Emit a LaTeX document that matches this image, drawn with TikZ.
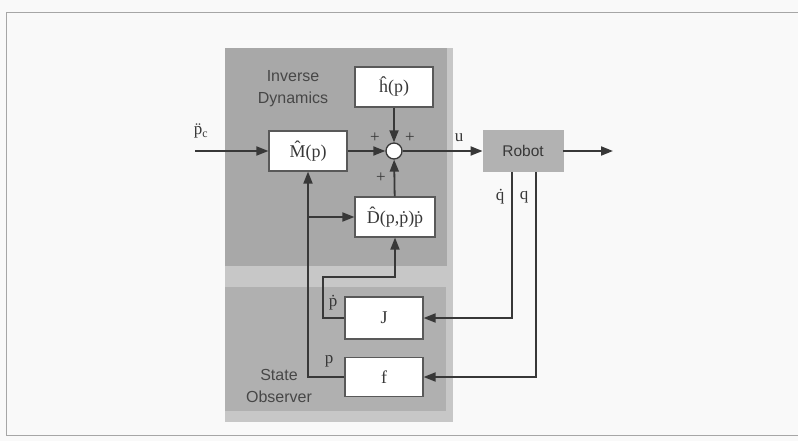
\documentclass[tikz,border=0pt]{standalone}
\usepackage{fontspec}
\setmainfont{Liberation Serif}
\setsansfont{Liberation Sans}
\usetikzlibrary{arrows.meta}
\definecolor{ink}{gray}{0.22}
\definecolor{paper}{gray}{0.975}
\definecolor{panelA}{gray}{0.66}
\definecolor{panelB}{gray}{0.69}
\definecolor{stripe}{gray}{0.78}
\definecolor{robotfill}{gray}{0.70}
\begin{document}
\begin{tikzpicture}[x=1pt,y=-1pt,
  blk/.style={draw=black!65, line width=1.2pt, fill=white, minimum width=78pt, minimum height=40pt, inner sep=0pt, text=ink, font=\fontsize{18}{20}\selectfont},
  robotbox/.style={draw=gray!60, line width=0.8pt, fill=robotfill, minimum width=80pt, minimum height=41pt, inner sep=0pt, text=ink, font=\sffamily\fontsize{15.5}{17}\selectfont},
  sumnode/.style={circle, draw=ink, line width=1.3pt, fill=white, minimum size=16pt, inner sep=0pt},
  wire/.style={draw=ink, line width=1.8pt},
  arr/.style={wire, -{Triangle[length=12pt,width=9pt]}},
  lbl/.style={text=ink, inner sep=0pt, font=\fontsize{17}{19}\selectfont},
  panellbl/.style={text=black!72, inner sep=0pt, align=center, font=\sffamily\fontsize{16}{22}\selectfont}
]
\useasboundingbox (0,0) rectangle (798,441);
\fill[paper] (0,0) rectangle (798,441);
\draw[gray!70, line width=1pt] (798,13) -- (6,13) -- (6,435) -- (798,435);

% panels
\fill[stripe] (225,48) rectangle (453,422);
\fill[panelA] (225,48) rectangle (447,266);
\fill[panelB] (225,287) rectangle (446,411);

\node[panellbl] (idl) at (293,89) {Inverse\\Dynamics};
\node[panellbl] (sol) at (279,386) {State\\Observer};

% blocks
\node[blk] (h) at (394,87) {\^{h}(p)};
\node[blk] (M) at (308,151) {\^{M}(p)};
\node[sumnode] (S) at (394,151) {};
\node[blk, minimum width=80pt] (D) at (395,217) {\^{D}(p,\.{p})\.{p}};
\node[robotbox] (R) at (523,151) {Robot};
\node[blk, minimum height=42pt] (J) at (384,318) {J};
\node[blk, minimum height=39pt] (f) at (384,377) {f};

\coordinate (in) at (195,151);
\coordinate (out) at (613,151);
\coordinate (qdx) at (512,0);
\coordinate (qx) at (536,0);
\coordinate (jt) at (323,277);

% connectors
\draw[arr] (in) -- (M);
\draw[arr] (M) -- (S);
\draw[arr] (h) -- (S);
\draw[arr] (D) -- (S);
\draw[arr] (S) -- (R);
\draw[arr] (R) -- (out);
\draw[arr] (R.south -| qdx) |- (J.east);
\draw[arr] (R.south -| qx) |- (f.east);
\draw[arr] (f.west) -| (M.south);
\draw[arr] (M.south |- D.west) -- (D.west);
\draw[arr] (J.west) -| (jt) -| (D.south);

% labels
\node[lbl] (pc) at (201,131) {\"{p}\textsubscript{c}};
\node[lbl] (ul) at (459,138) {u};
\node[lbl] (p1) at (375,138) {+};
\node[lbl] (p2) at (410,138) {+};
\node[lbl] (p3) at (381,178) {+};
\node[lbl] (qdl) at (500,197) {\.{q}};
\node[lbl] (ql) at (524,197) {q};
\node[lbl] (pdl) at (333,303) {\.{p}};
\node[lbl] (pl) at (329,361) {p};
\end{tikzpicture}
\end{document}
